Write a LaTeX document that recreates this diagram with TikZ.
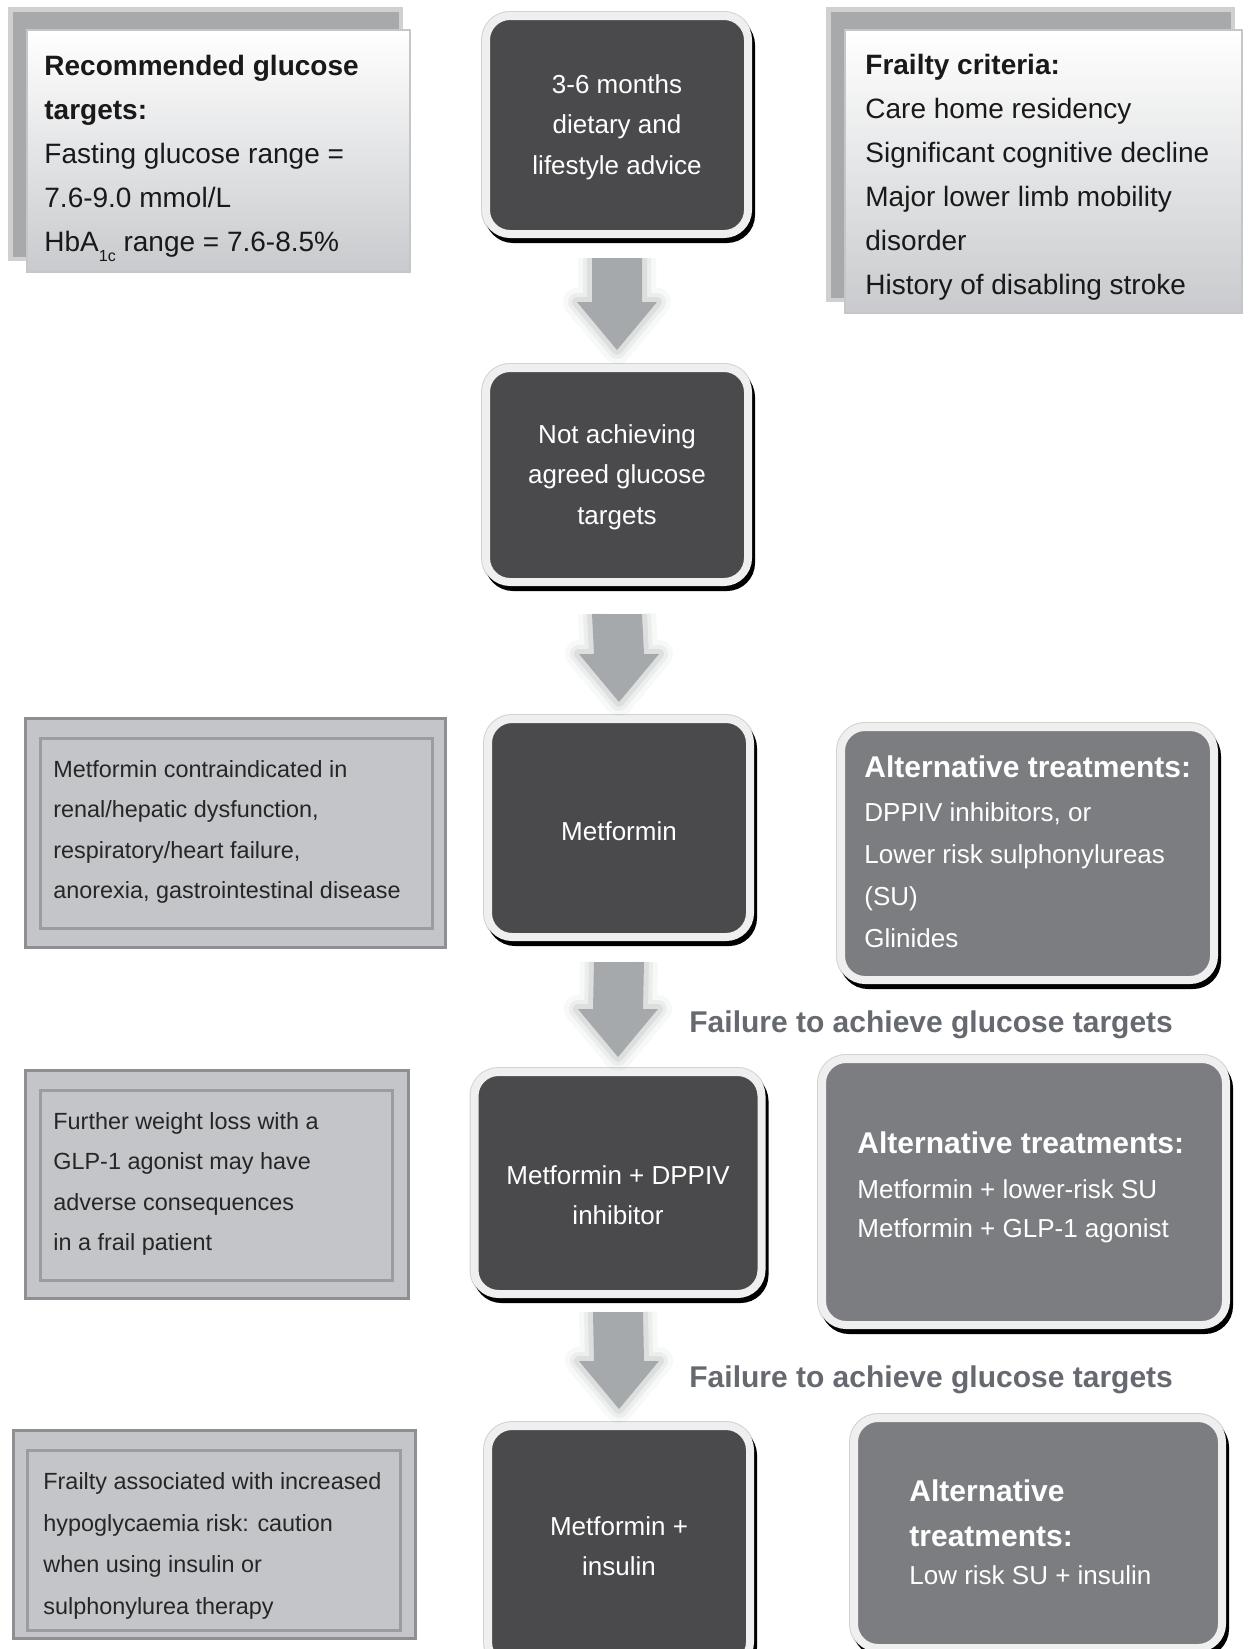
\documentclass[tikz,border=0pt]{standalone}
\usepackage{fontspec}
\setmainfont{Liberation Sans}
\usetikzlibrary{calc}
\definecolor{dkfill}{HTML}{4A4A4C}
\definecolor{altfill}{HTML}{7B7D80}
\definecolor{edgecol}{HTML}{EFEFEF}
\definecolor{lfill}{HTML}{C3C5C8}
\definecolor{lborder}{HTML}{8D8F92}
\definecolor{linner}{HTML}{9A9CA0}
\definecolor{topgray}{HTML}{C8CACD}
\definecolor{shgray}{HTML}{A8A9AB}
\definecolor{arrowgray}{HTML}{A6A9AC}
\definecolor{labelcol}{HTML}{666A70}
\newcommand\althead{\fontsize{15}{21}\selectfont\bfseries}
\newcommand\flowarrow[2]{%
  \coordinate (as) at #1;
  \coordinate (at) at #2;
  \foreach \lw/\op in {14/0.05,9/0.08,5/0.12}{%
    \draw[line width=\lw pt, draw=arrowgray!70!black, opacity=\op, line join=round]
      ($(as)+(-25,0)$) -- ($(at)+(-25,-48)$) -- ($(at)+(-40,-48)$) -- (at)
      -- ($(at)+(40,-48)$) -- ($(at)+(25,-48)$) -- ($(as)+(25,0)$);
  }
  \fill[arrowgray] ($(as)+(-25,0)$) -- ($(at)+(-25,-48)$) -- ($(at)+(-40,-48)$) -- (at)
      -- ($(at)+(40,-48)$) -- ($(at)+(25,-48)$) -- ($(as)+(25,0)$) -- cycle;
}
\begin{document}
\begin{tikzpicture}[x=0.5pt,y=-0.5pt,
  darkbox/.style={rectangle, rounded corners=12pt, fill=dkfill, draw=edgecol,
    line width=4pt, outer sep=0pt, inner sep=0pt,
    preaction={draw=gray!35, line width=5pt},
    preaction={fill=black, draw=black, line width=4pt,
      transform canvas={xshift=1.5pt,yshift=-2.5pt}}},
  altbox/.style={darkbox, fill=altfill},
  topbox/.style={rectangle, draw=gray!45, line width=0.75pt, top color=white,
    bottom color=topgray, outer sep=0pt, inner sep=0pt,
    preaction={fill=shgray!55, draw=shgray!55, line width=6pt,
      transform canvas={xshift=-6.5pt,yshift=8.5pt}},
    preaction={fill=shgray, draw=shgray, line width=1.5pt,
      transform canvas={xshift=-6.5pt,yshift=8.5pt}}},
  leftbox/.style={rectangle, fill=lfill, draw=lborder, line width=1.5pt,
    outer sep=0pt, inner sep=0pt},
  innerline/.style={draw=linner, line width=1.5pt},
  darktext/.style={inner sep=0pt, text=white, align=center,
    font=\fontsize{13}{20.25}\selectfont},
  alttext/.style={inner sep=0pt, anchor=west, text=white, align=left,
    font=\fontsize{13}{21}\selectfont},
  toptext/.style={inner sep=0pt, anchor=west, text=black!90, align=left,
    font=\fontsize{14}{22}\selectfont},
  lefttext/.style={inner sep=0pt, anchor=west, text=black!85, align=left,
    font=\fontsize{11.7}{20.3}\selectfont},
  faillabel/.style={font=\fontsize{15}{18}\selectfont\bfseries, text=labelcol,
    inner sep=0pt, anchor=west}
]
\useasboundingbox[fill=white] (0,0) rectangle (1248,1649);

% top info boxes
\node[topbox, minimum width=191.5pt, minimum height=121pt] (tl) at (218.5,151) {};
\node[toptext] (tlt) at (44,156)
  {\textbf{Recommended glucose}\\\textbf{targets:}\\Fasting glucose range =\\7.6-9.0 mmol/L\\HbA\raisebox{-5pt}[0pt][0pt]{\fontsize{8}{8}\selectfont 1c} range = 7.6-8.5\%};
\node[topbox, minimum width=198.5pt, minimum height=141.5pt] (tr) at (1043.5,171.5) {};
\node[toptext] (trt) at (865,177)
  {\textbf{Frailty criteria:}\\Care home residency\\Significant cognitive decline\\Major lower limb mobility\\disorder\\History of disabling stroke};

% centre column
\node[darkbox, minimum width=131pt, minimum height=109pt] (b1) at (617,125) {};
\node[darktext] (b1t) at ([yshift=-1pt]b1.center) {3-6 months\\dietary and\\lifestyle advice};
\node[darkbox, minimum width=131pt, minimum height=107pt] (b2) at (617,475) {};
\node[darktext] (b2t) at ([yshift=-1pt]b2.center) {Not achieving\\agreed glucose\\targets};
\node[darkbox, minimum width=131pt, minimum height=109pt] (b3) at (619,828) {};
\node[darktext] (b3t) at ([yshift=-1.5pt]b3.center) {Metformin};
\node[darkbox, minimum width=143.5pt, minimum height=111pt] (b4) at (618,1183) {};
\node[darktext] (b4t) at ([yshift=-6pt]b4.center) {Metformin + DPPIV\\inhibitor};
\node[darkbox, minimum width=131pt, minimum height=120pt] (b5) at (619,1546) {};
\node[darktext] (b5t) at (b5.center) {Metformin +\\insulin};

% alternative treatments
\node[altbox, minimum width=186.5pt, minimum height=126.5pt] (a1) at (1027.5,853.5) {};
\node[alttext] (a1t) at (864,852)
  {{\althead Alternative treatments:}\\[1pt]DPPIV inhibitors, or\\Lower risk sulphonylureas\\(SU)\\Glinides};
\node[altbox, minimum width=202pt, minimum height=133pt] (a2) at (1024,1192) {};
\node[alttext, font=\fontsize{13}{19.5}\selectfont] (a2t) at (857,1187)
  {{\althead Alternative treatments:}\\[3pt]Metformin + lower-risk SU\\Metformin + GLP-1 agonist};
\node[altbox, minimum width=184pt, minimum height=115pt] (a3) at (1038,1533) {};
\node[alttext, font=\fontsize{13}{19}\selectfont] (a3t) at (909,1532)
  {{\althead Alternative}\\[3.5pt]{\althead treatments:}\\Low risk SU + insulin};

% left notes
\node[leftbox, minimum width=210pt, minimum height=114.5pt] (l1) at (235,832.5) {};
\draw[innerline] ([shift={(7.5pt,-10pt)}]l1.north west) rectangle ([shift={(-6.5pt,9.5pt)}]l1.south east);
\node[lefttext] (l1t) at (53,832)
  {Metformin contraindicated in\\renal/hepatic dysfunction,\\respiratory/heart failure,\\anorexia, gastrointestinal disease};
\node[leftbox, minimum width=191.5pt, minimum height=114pt] (l2) at (216.5,1184) {};
\draw[innerline] ([shift={(7.5pt,-10pt)}]l2.north west) rectangle ([shift={(-8pt,9pt)}]l2.south east);
\node[lefttext] (l2t) at (53,1184)
  {Further weight loss with a\\GLP-1 agonist may have\\adverse consequences\\in a frail patient};
\node[leftbox, minimum width=201pt, minimum height=104pt] (l3) at (214,1534) {};
\draw[innerline] ([shift={(7pt,-10pt)}]l3.north west) rectangle ([shift={(-7.5pt,4pt)}]l3.south east);
\node[lefttext, font=\fontsize{11.7}{20.7}\selectfont] (l3t) at (43,1546)
  {Frailty associated with increased\\hypoglycaemia risk: caution\\when using insulin or\\sulphonylurea therapy};

% arrows
\flowarrow{([yshift=-12pt]b1.south)}{([yshift=9pt]b2.north)}
\flowarrow{([yshift=-16pt]b2.south)}{([yshift=8.5pt]b3.north)}
\flowarrow{([yshift=-12.5pt]b3.south)}{([yshift=7.5pt]b4.north)}
\flowarrow{([yshift=-9pt]b4.south)}{([yshift=8.5pt]b5.north)}

% labels
\node[faillabel] (f1) at (689,1025) {Failure to achieve glucose targets};
\node[faillabel] (f2) at (689,1380) {Failure to achieve glucose targets};
\end{tikzpicture}
\end{document}
